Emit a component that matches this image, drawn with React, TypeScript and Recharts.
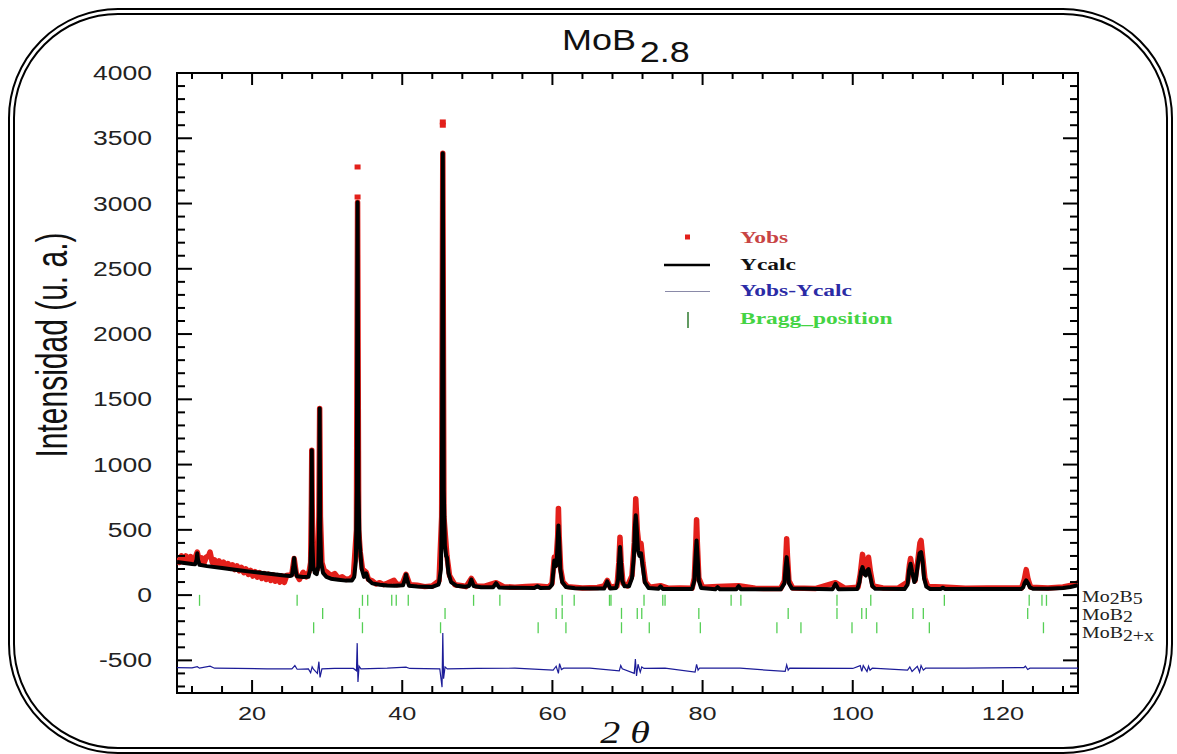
import React from 'react';
import { ComposedChart, Line, Scatter, XAxis, YAxis, ReferenceArea } from 'recharts';

// ---------- layout ----------
const W = 1177;
const H = 754;
const PLOT = { left: 177, right: 1078, top: 73, bottom: 693 };
const XAXIS_H = 30;
const YAXIS_W = 60;

// ---------- axes ----------
const X_DOMAIN: [number, number] = [10, 130];
const Y_DOMAIN: [number, number] = [-750, 4000];
const X_TICKS = [12, 16, 20, 24, 28, 32, 36, 40, 44, 48, 52, 56, 60, 64, 68, 72, 76, 80, 84, 88, 92, 96, 100, 104, 108, 112, 116, 120, 124, 128];
const X_LABELS = [20, 40, 60, 80, 100, 120];
const Y_TICKS = [-700, -600, -500, -400, -300, -200, -100, 0, 100, 200, 300, 400, 500, 600, 700, 800, 900, 1000, 1100, 1200, 1300, 1400, 1500, 1600, 1700, 1800, 1900, 2000, 2100, 2200, 2300, 2400, 2500, 2600, 2700, 2800, 2900, 3000, 3100, 3200, 3300, 3400, 3500, 3600, 3700, 3800, 3900, 4000];
const Y_LABELS = [-500, 0, 500, 1000, 1500, 2000, 2500, 3000, 3500, 4000];

// ---------- data: Ycalc (2θ, intensity) ----------
const YCALC: [number, number][] = [
  [10, 253], [11, 246], [12, 238], [12.4, 236], [12.6, 270], [12.7, 320], [12.8, 270], [13.0, 232],
  [14, 222], [16, 207], [18, 192], [20, 178], [22, 165], [24, 152], [25.0, 147],
  [25.3, 150], [25.5, 220], [25.6, 285], [25.7, 220], [25.95, 145], [26.8, 138], [27.5, 140],
  [27.55, 150], [27.75, 200], [27.87, 400], [27.92, 820], [27.95, 1110], [27.98, 820], [28.03, 400], [28.15, 220], [28.35, 170],
  [28.6, 160], [28.82, 220], [28.92, 500], [28.97, 1050], [29.0, 1430], [29.03, 1050], [29.08, 500], [29.2, 250], [29.45, 170], [29.9, 140],
  [30.5, 126], [31.5, 118], [32.5, 111], [33.3, 112],
  [33.6, 140], [33.82, 260], [33.95, 800], [34.0, 2100], [34.05, 3010], [34.1, 2100], [34.17, 800], [34.3, 420], [34.42, 330], [34.6, 200], [34.9, 140],
  [35.2, 166], [35.45, 120], [36, 90], [37, 80], [38, 74], [39, 71],
  [40.1, 75], [40.35, 120], [40.5, 158], [40.65, 120], [40.9, 72], [42, 66], [44, 63], [44.8, 80],
  [44.9, 95], [45.15, 200], [45.28, 700], [45.34, 2300], [45.4, 3385], [45.46, 2300], [45.53, 800], [45.68, 380], [45.85, 300], [45.95, 290], [46.15, 170], [46.5, 100], [47.2, 72], [48.4, 64],
  [48.9, 70], [49.2, 120], [49.5, 70], [50.5, 60], [52.1, 60], [52.5, 92], [52.9, 59], [55, 56], [57.6, 55], [58.0, 68], [58.4, 54], [59.6, 56],
  [59.95, 80], [60.12, 180], [60.25, 266], [60.4, 220], [60.55, 230], [60.7, 420], [60.8, 534], [60.9, 420], [61.05, 200], [61.3, 100], [61.8, 62], [63, 52], [65, 50], [66.9, 50],
  [67.3, 105], [67.7, 50], [68.5, 55],
  [68.75, 120], [68.9, 280], [69.0, 368], [69.1, 280], [69.3, 110], [69.6, 67], [70.2, 68], [70.6, 130],
  [70.85, 300], [71.0, 540], [71.1, 611], [71.2, 540], [71.4, 340], [71.6, 300], [71.8, 320], [72.0, 230], [72.3, 100], [72.8, 55],
  [74.1, 48], [74.4, 67], [74.7, 47], [76, 46], [78.6, 47],
  [78.9, 110], [79.05, 280], [79.2, 419], [79.35, 280], [79.5, 110], [79.8, 55], [81.7, 45], [82.0, 61], [82.3, 45], [84.5, 45], [84.8, 69], [85.1, 45], [90.4, 44],
  [90.9, 90], [91.05, 210], [91.2, 291], [91.35, 210], [91.5, 90], [91.9, 50], [97.3, 45], [97.7, 87], [98.1, 45], [100.6, 46],
  [100.9, 100], [101.1, 180], [101.3, 215], [101.55, 160], [101.75, 150], [101.95, 190], [102.1, 200], [102.3, 150], [102.6, 70], [103, 48], [106.9, 46],
  [107.3, 80], [107.5, 190], [107.7, 240], [107.9, 180], [108.2, 100], [108.4, 120], [108.7, 250], [108.9, 320], [109.1, 330], [109.3, 260], [109.5, 130], [109.8, 65], [110.3, 47],
  [111.7, 46], [112.0, 56], [112.3, 46], [122.4, 46],
  [122.7, 60], [122.9, 95], [123.1, 113], [123.3, 95], [123.6, 60], [124, 48], [126, 49], [128, 55], [129, 62], [130, 75],
];

// ---------- data: Yobs (observed profile) ----------
const YOBS: [number, number][] = [
  [10, 285], [10.3, 250], [10.6, 300], [10.9, 255], [11.2, 300], [11.5, 255], [11.8, 295], [12.1, 250], [12.4, 285], [12.7, 330], [13.0, 255], [13.3, 285], [13.6, 245], [13.9, 290],
  [14.2, 300], [14.4, 330], [14.7, 250], [15.0, 270], [15.3, 230], [15.6, 262], [15.9, 222], [16.2, 252], [16.5, 214], [16.8, 242], [17.1, 205], [17.4, 232], [17.7, 196],
  [18.0, 224], [18.3, 186], [18.6, 212], [18.9, 172], [19.2, 200], [19.5, 158], [19.8, 190], [20.1, 146], [20.4, 180], [20.7, 138], [21.0, 172], [21.3, 128], [21.6, 165],
  [21.9, 120], [22.2, 160], [22.5, 112], [22.8, 155], [23.1, 106], [23.4, 150], [23.7, 100], [24.0, 148], [24.3, 98], [24.6, 150], [25, 155], [25.3, 160], [25.6, 280],
  [25.9, 160], [26.3, 120], [26.8, 175], [27.2, 140], [27.6, 180],
  [27.8, 250], [27.9, 700], [27.95, 1110], [28.0, 700], [28.1, 300], [28.4, 200], [28.7, 200], [28.9, 600], [29.0, 1430], [29.1, 600], [29.3, 250], [29.6, 190],
  [30.0, 175], [30.5, 150], [31, 165], [31.5, 130], [32, 140], [32.5, 120], [33, 125], [33.5, 150], [33.9, 500], [34.05, 3010], [34.2, 500], [34.4, 330], [34.7, 200],
  [35.2, 175], [35.5, 120], [36, 110], [36.5, 85], [37, 95], [37.5, 80], [38, 90], [38.9, 113], [39.3, 80], [40, 85], [40.5, 160], [41, 80], [42, 75], [43, 65], [44, 70],
  [44.9, 110], [45.25, 600], [45.4, 3385], [45.55, 600], [45.95, 300], [46.3, 150], [47, 80], [48, 72], [48.5, 65], [49.2, 128], [49.8, 70], [51, 68], [52.5, 95], [53.5, 65],
  [55, 60], [56.5, 66], [58, 70], [59.5, 62], [59.95, 90], [60.25, 291], [60.45, 230], [60.7, 450], [60.8, 664], [60.9, 450], [61.1, 200], [61.4, 100], [62, 65], [64, 55],
  [66, 58], [66.9, 70], [67.3, 112], [67.7, 60], [68.6, 70], [68.85, 250], [69.0, 444], [69.15, 250], [69.4, 90], [70, 70], [70.6, 150], [70.9, 400], [71.1, 739], [71.3, 500],
  [71.55, 360], [71.8, 396], [72.05, 250], [72.4, 100], [73, 60], [74.4, 72], [75.5, 52], [77, 55], [78.6, 52], [78.9, 130], [79.1, 400], [79.2, 578], [79.3, 400], [79.5, 130],
  [80, 60], [82, 65], [84.8, 72], [87, 52], [90.4, 50], [90.9, 110], [91.1, 300], [91.2, 432], [91.3, 300], [91.5, 110], [92, 55], [95, 50], [97.7, 95], [99, 52],
  [100.7, 60], [101.0, 160], [101.3, 312], [101.6, 200], [101.8, 210], [102.1, 290], [102.35, 180], [102.7, 70], [104, 55], [106, 52], [107.3, 100], [107.55, 230], [107.7, 280],
  [107.9, 210], [108.3, 110], [108.7, 280], [108.95, 400], [109.1, 419], [109.3, 300], [109.6, 130], [110, 65], [112, 62], [115, 52], [118, 55], [122.5, 55], [122.85, 120],
  [123.1, 195], [123.35, 120], [123.7, 60], [126, 55], [128, 62], [129.5, 80], [130, 95],
];

// isolated observed points above the two strongest peaks
const YOBS_TOPS: [number, number][] = [
  [34.05, 3280], [34.05, 3050], [45.4, 3625], [45.4, 3600],
];

// ---------- data: Yobs - Ycalc ----------
const YDIFF: [number, number][] = [
  [10, -555], [12, -558], [12.7, -548], [13, -560], [14.4, -545], [15, -560], [18, -562], [22, -565], [25.3, -565], [25.7, -540], [26, -568], [27.5, -565],
  [27.8, -595], [28.0, -550], [28.2, -570], [28.7, -600], [28.9, -510], [29.05, -630], [29.3, -565], [31, -562], [33.5, -562], [33.9, -580], [34.0, -368], [34.1, -665],
  [34.25, -545], [34.5, -565], [38, -560], [40.5, -552], [41, -562], [45, -565], [45.3, -705], [45.4, -290], [45.5, -640], [45.7, -550], [46, -565], [50, -562], [55, -560],
  [60.1, -575], [60.5, -545], [60.8, -600], [60.95, -525], [61.2, -570], [61.5, -560], [65, -560], [68.9, -580], [69.1, -540], [69.3, -565], [70.9, -600], [71.05, -490],
  [71.2, -620], [71.4, -530], [71.7, -590], [71.9, -550], [72.2, -562], [75, -560], [79, -590], [79.2, -530], [79.4, -575], [79.6, -560], [85, -560], [91.0, -585],
  [91.2, -535], [91.4, -575], [91.6, -560], [100, -562], [101.0, -540], [101.2, -585], [101.4, -540], [101.9, -585], [102.1, -545], [102.3, -575], [102.6, -560],
  [107.3, -575], [107.6, -550], [107.9, -585], [108.6, -545], [108.9, -590], [109.1, -540], [109.4, -575], [109.7, -560], [115, -560], [122.8, -555], [123.0, -545],
  [123.3, -570], [123.6, -560], [130, -560],
];

// ---------- data: Bragg positions ----------
const BRAGG_MO2B5 = [13.0, 26.0, 34.7, 35.4, 38.6, 39.2, 40.8, 49.5, 53.0, 61.3, 62.9, 67.6, 67.8, 72.2, 74.7, 75.0, 83.8, 85.1, 97.9, 102.4, 112.2, 123.5, 125.2, 125.8];
const BRAGG_MOB2 = [29.4, 34.3, 45.7, 60.5, 61.3, 69.2, 71.3, 71.9, 79.5, 91.4, 97.9, 101.2, 101.8, 108.0, 109.4, 123.3];
const BRAGG_MOB2X = [28.2, 34.7, 45.1, 58.1, 61.8, 69.2, 72.9, 79.7, 89.9, 93.1, 99.9, 103.2, 110.2, 125.4];
const BRAGG_ROW_LEVEL = [-40, -140, -250];

// ---------- colours ----------
const RED = '#e3201b';
const BLUE = '#1c1c98';
const GREEN = '#55cf55';

const toPts = (arr: [number, number][]) => arr.map(([x, y]) => ({ x, y }));
const braggPts = (arr: number[], level: number) => arr.map((x) => ({ x, y: level }));

const SANS = '"Liberation Sans", Arial, sans-serif';
const SERIF = '"Liberation Serif", "Times New Roman", serif';

const XTick = (props: any) => {
  const { x, payload } = props;
  const v = payload.value;
  const major = X_LABELS.includes(v);
  const lb = major ? 13 : 7;
  const lt = major ? 12 : 6;
  return (
    <g>
      <line x1={x} x2={x} y1={PLOT.bottom - lb} y2={PLOT.bottom} stroke="#000" strokeWidth={2} />
      <line x1={x} x2={x} y1={PLOT.top} y2={PLOT.top + lt} stroke="#000" strokeWidth={2} />
      {major && (
        <text transform={`translate(${x},720) scale(1.33,1)`} textAnchor="middle" fontSize={19} fontFamily={SANS} fill="#222">
          {v}
        </text>
      )}
    </g>
  );
};

const YTick = (props: any) => {
  const { y, payload } = props;
  const v = payload.value;
  const major = Y_LABELS.includes(v);
  const len = major ? 15 : 8;
  return (
    <g>
      <line x1={PLOT.left} x2={PLOT.left + len} y1={y} y2={y} stroke="#000" strokeWidth={2} />
      <line x1={PLOT.right - len} x2={PLOT.right} y1={y} y2={y} stroke="#000" strokeWidth={2} />
      {major && (
        <text transform={`translate(152,${y + 7}) scale(1.36,1)`} textAnchor="end" fontSize={19.5} fontFamily={SANS} fill="#222">
          {v}
        </text>
      )}
    </g>
  );
};

const RedSquare = (props: any) => {
  const { cx, cy } = props;
  return <rect x={cx - 3} y={cy - 2.5} width={6} height={5} fill={RED} />;
};

const GreenTick = (props: any) => {
  const { cx, cy } = props;
  return <line x1={cx} x2={cx} y1={cy - 5.5} y2={cy + 5.5} stroke={GREEN} strokeWidth={1.3} />;
};

export default function App() {
  return (
    <div style={{ position: 'absolute', left: 0, top: 0, width: W, height: H, background: '#fff', overflow: 'hidden' }}>
      <div
        style={{
          position: 'absolute',
          left: 8,
          top: 8,
          width: 1165 - 14,
          height: 746 - 14,
          border: '7px double #000',
          borderRadius: 110,
        }}
      />
      <div style={{ position: 'absolute', left: 0, top: 0 }}>
        <ComposedChart
          width={W}
          height={H}
          margin={{ top: PLOT.top, right: W - PLOT.right, bottom: H - PLOT.bottom - XAXIS_H, left: PLOT.left - YAXIS_W }}
        >
          <XAxis
            type="number"
            dataKey="x"
            domain={X_DOMAIN}
            ticks={X_TICKS}
            interval={0}
            tick={<XTick />}
            tickLine={false}
            axisLine={false}
            height={XAXIS_H}
            allowDataOverflow
          />
          <YAxis
            type="number"
            dataKey="y"
            domain={Y_DOMAIN}
            ticks={Y_TICKS}
            interval={0}
            tick={<YTick />}
            tickLine={false}
            axisLine={false}
            width={YAXIS_W}
            allowDataOverflow
          />
          <Line data={toPts(YOBS)} dataKey="y" name="Yobs" stroke={RED} strokeWidth={5.5} strokeLinejoin="round" dot={false} isAnimationActive={false} />
          <Scatter data={toPts(YOBS_TOPS)} dataKey="y" name="Yobs" shape={<RedSquare />} isAnimationActive={false} />
          <Line data={toPts(YCALC)} dataKey="y" name="Ycalc" stroke="#000" strokeWidth={4} strokeLinejoin="round" dot={false} isAnimationActive={false} />
          <Line data={toPts(YDIFF)} dataKey="y" name="Yobs-Ycalc" stroke={BLUE} strokeWidth={1.2} dot={false} isAnimationActive={false} />
          <Scatter data={braggPts(BRAGG_MO2B5, BRAGG_ROW_LEVEL[0])} dataKey="y" name="Mo2B5" shape={<GreenTick />} isAnimationActive={false} />
          <Scatter data={braggPts(BRAGG_MOB2, BRAGG_ROW_LEVEL[1])} dataKey="y" name="MoB2" shape={<GreenTick />} isAnimationActive={false} />
          <Scatter data={braggPts(BRAGG_MOB2X, BRAGG_ROW_LEVEL[2])} dataKey="y" name="MoB2+x" shape={<GreenTick />} isAnimationActive={false} />
          <ReferenceArea x1={X_DOMAIN[0]} x2={X_DOMAIN[1]} y1={Y_DOMAIN[0]} y2={Y_DOMAIN[1]} fill="none" fillOpacity={0} stroke="#000" strokeWidth={2} ifOverflow="visible" />
        </ComposedChart>
      </div>
      <svg width={W} height={H} style={{ position: 'absolute', left: 0, top: 0, pointerEvents: 'none' }}>
        {/* title */}
        <text transform="translate(562,50) scale(1.22,1)" fontSize={29.5} fontFamily={SANS} fill="#111">
          MoB
          <tspan dx={3} dy={12}>2.8</tspan>
        </text>
        {/* y label */}
        <text transform="translate(67,345) scale(1.45,1) rotate(-90)" textAnchor="middle" fontSize={30} fontFamily={SANS} fill="#111">
          Intensidad (u. a.)
        </text>
        {/* x label */}
        <text transform="translate(625,743) scale(1.25,1)" textAnchor="middle" fontSize={32} fontStyle="italic" fontFamily={SERIF} fill="#111">
          2 θ
        </text>
        {/* legend */}
        <rect x={685} y={234.5} width={5} height={5} fill={RED} />
        <text transform="translate(740,243) scale(1.34,1)" fontSize={17.5} fontWeight="bold" fontFamily={SERIF} fill="#c84444">Yobs</text>
        <line x1={664} x2={710} y1={265} y2={265} stroke="#000" strokeWidth={2.5} />
        <text transform="translate(740,270) scale(1.34,1)" fontSize={17.5} fontWeight="bold" fontFamily={SERIF} fill="#111">Ycalc</text>
        <line x1={665} x2={710} y1={291.5} y2={291.5} stroke="#8a8aa8" strokeWidth={1.2} />
        <text transform="translate(740,296) scale(1.34,1)" fontSize={17.5} fontWeight="bold" fontFamily={SERIF} fill="#2b2ba6">Yobs-Ycalc</text>
        <line x1={688} x2={688} y1={312} y2={328} stroke="#2e7a2e" strokeWidth={1.5} />
        <text transform="translate(740,324) scale(1.34,1)" fontSize={17.5} fontWeight="bold" fontFamily={SERIF} fill="#44d444">Bragg_position</text>
        {/* phase labels */}
        <text transform="translate(1082,602) scale(1.17,1)" fontSize={17} fontFamily={SERIF} fill="#222">
          Mo<tspan dy={2}>2</tspan><tspan dy={-2}>B</tspan><tspan dy={2}>5</tspan>
        </text>
        <text transform="translate(1082,620) scale(1.17,1)" fontSize={17} fontFamily={SERIF} fill="#222">
          MoB<tspan dy={2}>2</tspan>
        </text>
        <text transform="translate(1082,638) scale(1.17,1)" fontSize={17} fontFamily={SERIF} fill="#222">
          MoB<tspan dy={3}>2+x</tspan>
        </text>
      </svg>
    </div>
  );
}
